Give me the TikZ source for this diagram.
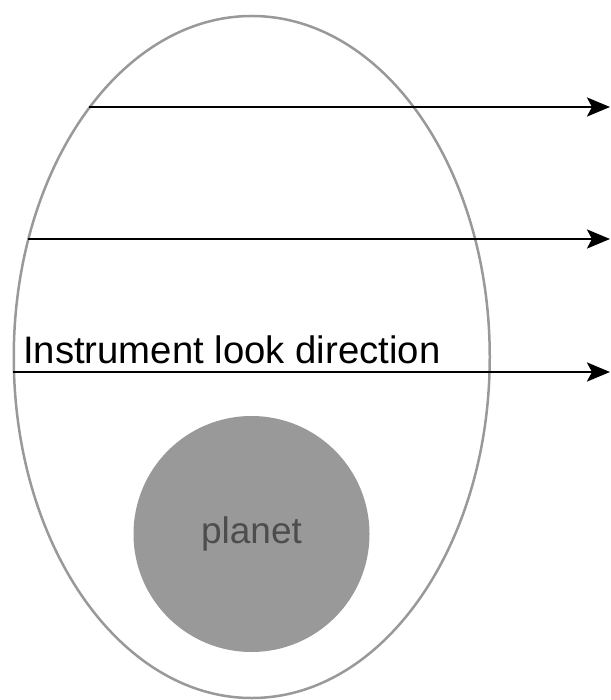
\documentclass[tikz,border=0pt]{standalone}
\usepackage{fontspec}
\setmainfont{Liberation Sans}
\usetikzlibrary{arrows.meta}
\definecolor{ringgray}{HTML}{999999}
\definecolor{planetgray}{HTML}{999999}
\definecolor{labelgray}{HTML}{4D4D4D}
\begin{document}
\begin{tikzpicture}[x=1pt,y=-1pt,
  ray/.style={line width=2.8pt,draw=black,-{Stealth[length=23pt,width=19pt,inset=5pt]}},
  ring/.style={draw=ringgray,line width=2.5pt},
  lbl/.style={font=\fontsize{38.3}{44}\selectfont,inner sep=0pt,anchor=base west}]
\useasboundingbox (0,0) rectangle (610,700);
\draw[ring] (251.75,357) ellipse [x radius=238, y radius=341];
\node[circle,fill=planetgray,minimum size=236pt,inner sep=0pt] (planet) at (251.5,534) {};
\node[font=\fontsize{37}{44}\selectfont,text=labelgray] (plabel) at (planet.center) {planet};
\coordinate (s1) at (89,107);
\coordinate (e1) at (610,107);
\coordinate (s2) at (28,239);
\coordinate (e2) at (610,239);
\coordinate (s3) at (13,372);
\coordinate (e3) at (610,372);
\draw[ray] (s1) -- (e1);
\draw[ray] (s2) -- (e2);
\draw[ray] (s3) -- (e3);
\node[lbl] (look) at (23,363) {Instrument look direction};
\end{tikzpicture}
\end{document}
